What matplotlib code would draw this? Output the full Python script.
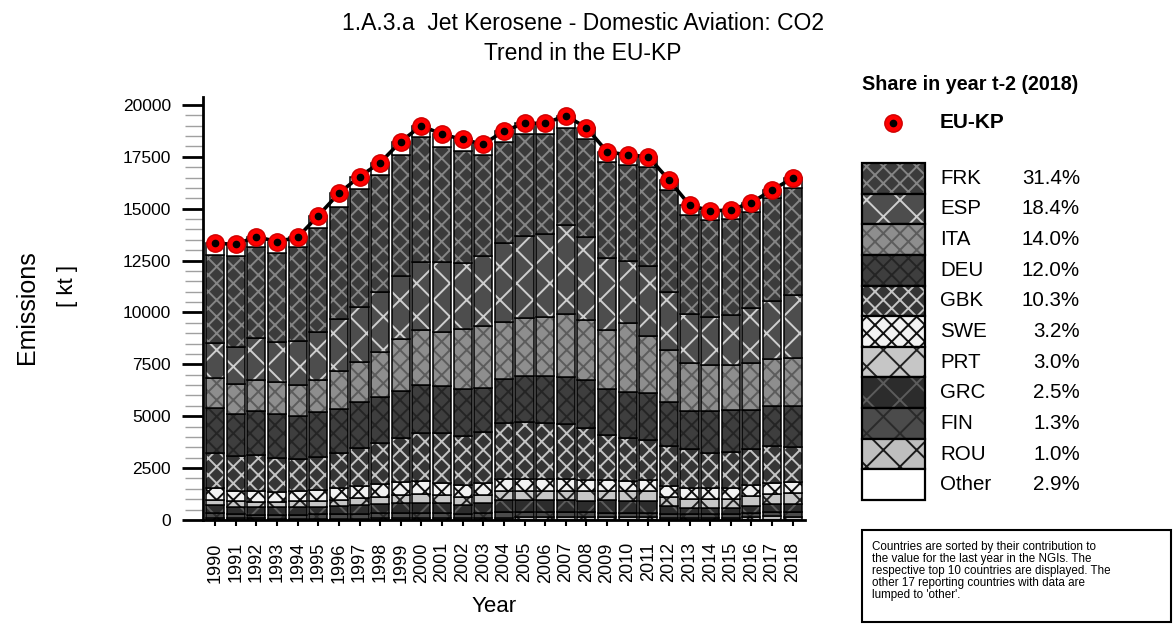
import matplotlib.pyplot as plt
import numpy as np
from matplotlib.patches import Rectangle
from matplotlib.transforms import blended_transform_factory

plt.rcParams['font.family'] = ['Liberation Sans', 'DejaVu Sans']
plt.rcParams['hatch.linewidth'] = 1.4

# data (kt CO2)
years = np.arange(1990, 2019)
frk = [4257, 4386, 4418, 4257, 4530, 5043, 5428, 5672, 5655, 5815, 6024, 5574, 5381, 4851, 4900,
       4883, 4803, 4659, 4706, 4658, 4626, 4771, 4900, 4771, 4658, 4626, 4658, 4932, 5172]
esp = [1687, 1799, 2008, 1959, 2137, 2298, 2491, 2650, 2892, 3052, 3293, 3373, 3213, 3390, 3775,
       3984, 3983, 4305, 4016, 3454, 3004, 3373, 2811, 2346, 2330, 2410, 2651, 2827, 3030]
ita = [1445, 1446, 1494, 1543, 1479, 1526, 1847, 1959, 2136, 2506, 2651, 2571, 2876, 2972, 2779,
       2779, 2860, 3004, 2892, 2844, 3293, 2780, 2490, 2313, 2201, 2169, 2249, 2249, 2306]
deu = [2138, 2008, 2120, 2088, 2103, 2169, 2090, 2217, 2249, 2249, 2329, 2297, 2249, 2152, 2120,
       2201, 2281, 2298, 2329, 2217, 2249, 2249, 2137, 1863, 2025, 2008, 1895, 1928, 1976]
gbk = [1718, 1686, 1719, 1639, 1510, 1606, 1718, 1815, 1976, 2121, 2297, 2378, 2377, 2458, 2699,
       2779, 2699, 2650, 2490, 2168, 2040, 1927, 1927, 1880, 1718, 1767, 1719, 1767, 1696]
swe = [560, 520, 530, 500, 520, 530, 560, 590, 600, 630, 640, 600, 560, 550, 570,
       560, 550, 540, 530, 520, 520, 540, 520, 520, 520, 520, 530, 530, 527]
prt = [260, 250, 260, 260, 270, 280, 300, 330, 360, 390, 400, 400, 390, 420, 450,
       460, 470, 480, 470, 460, 470, 490, 440, 420, 440, 440, 460, 480, 494]
grc = [390, 370, 360, 350, 360, 370, 390, 420, 440, 480, 490, 470, 430, 470, 560,
       560, 560, 550, 560, 590, 570, 560, 380, 320, 300, 300, 350, 400, 412]
fin = [230, 200, 190, 190, 200, 200, 210, 230, 240, 260, 260, 250, 230, 240, 270,
       260, 250, 250, 230, 220, 210, 210, 190, 170, 170, 170, 200, 220, 214]
rou = [86, 74, 74, 65, 64, 66, 66, 69, 79, 87, 90, 79, 77, 87, 110,
       120, 130, 140, 138, 138, 126, 128, 109, 96, 96, 96, 147, 169, 165]
other = [564, 546, 482, 563, 450, 579, 643, 594, 594, 643, 530, 594, 562, 514, 514,
         530, 530, 610, 547, 482, 482, 482, 482, 482, 434, 434, 434, 402, 478]

countries = ['FRK', 'ESP', 'ITA', 'DEU', 'GBK', 'SWE', 'PRT', 'GRC', 'FIN', 'ROU', 'Other']
shares_2018 = [31.4, 18.4, 14.0, 12.0, 10.3, 3.2, 3.0, 2.5, 1.3, 1.0, 2.9]

# face colour, hatch colour, hatch
styles = {
    'FRK': ('#3b3b3b', '#858585', 'xx'),
    'ESP': ('#4d4d4d', '#cfcfcf', 'x'),
    'ITA': ('#8e8e8e', '#5c5c5c', 'xx'),
    'DEU': ('#3e3e3e', '#242424', 'xx'),
    'GBK': ('#353535', '#c4c4c4', 'xx'),
    'SWE': ('#f2f2f2', '#111111', 'xx'),
    'PRT': ('#c6c6c6', '#222222', 'x'),
    'GRC': ('#2c2c2c', '#5c5c5c', 'x'),
    'FIN': ('#4b4b4b', '#2a2a2a', 'x'),
    'ROU': ('#bebebe', '#1a1a1a', 'x'),
    'Other': ('#ffffff', '#ffffff', ''),
}

# stacking order, bottom to top
layers = [('ROU', rou), ('FIN', fin), ('GRC', grc), ('PRT', prt), ('SWE', swe),
          ('GBK', gbk), ('DEU', deu), ('ITA', ita), ('ESP', esp), ('FRK', frk), ('Other', other)]

fig = plt.figure(figsize=(11.74, 6.24), dpi=100)
ax = fig.add_axes([0.1727, 0.1667, 0.5130, 0.6779])

bottom = np.zeros(len(years))
for name, vals in layers:
    face, hc, h = styles[name]
    ax.bar(years, vals, 0.88, bottom=bottom, color=face, edgecolor=hc, hatch=h, linewidth=0)
    ax.bar(years, vals, 0.88, bottom=bottom, fill=False, edgecolor='black', linewidth=1.1)
    bottom += np.array(vals)
total = bottom

ax.plot(years, total, color='black', lw=2.6, zorder=5)
ax.plot(years, total, 'o', ms=12.5, mfc='#ff0000', mec='#d00000', mew=1, zorder=6)
ax.plot(years, total, 'o', ms=4.5, color='black', zorder=7)

ax.set_xlim(1989.4, 2018.6)
ax.set_ylim(0, 20386)
ax.set_yticks(np.arange(0, 20001, 2500))
ax.set_yticks(np.arange(0, 20001, 500), minor=True)
ax.set_xticks(years)
ax.set_xticklabels([str(y) for y in years], rotation=90)
ax.tick_params(axis='y', which='major', length=15, width=2, pad=8, labelsize=12.5)
ax.tick_params(axis='y', which='minor', length=13, width=1, color='#a0a0a0')
ax.tick_params(axis='x', length=4, width=1.5, pad=12, labelsize=13)
for s in ['top', 'right']:
    ax.spines[s].set_visible(False)
for s in ['left', 'bottom']:
    ax.spines[s].set_linewidth(2)

fig.text(583 / 1174, 1 - 24 / 624, '1.A.3.a  Jet Kerosene - Domestic Aviation: CO2',
         fontsize=16.5, ha='center', va='center')
fig.text(583 / 1174, 1 - 53 / 624, 'Trend in the EU-KP', fontsize=16.5, ha='center', va='center')
fig.text(494 / 1174, 1 - 607 / 624, 'Year', fontsize=16, ha='center', va='center')
fig.text(27 / 1174, 1 - 307 / 624, 'Emissions', fontsize=18, rotation=90, ha='center', va='center')
fig.text(68 / 1174, 1 - 286 / 624, '[ kt ]', fontsize=16, rotation=90, ha='center', va='center')

# legend on the right
fig.text(862 / 1174, 1 - 85 / 624, 'Share in year t-2 (2018)', fontsize=14.2,
         fontweight='bold', ha='left', va='center')
lax = fig.add_axes([862 / 1174, 1 - 500 / 624, 63 / 1174, 337 / 624])
lax.set_xlim(0, 1)
lax.set_ylim(-0.5, 10.5)
lax.axis('off')
rows = np.arange(len(countries))[::-1]
for name, row in zip(countries, rows):
    face, hc, h = styles[name]
    lax.barh(row, 1, height=1, left=0, color=face, edgecolor=hc, hatch=h, linewidth=0)
    lax.barh(row, 1, height=1, left=0, fill=False, edgecolor='black', linewidth=1.6, clip_on=False)
tr = blended_transform_factory(lax.transAxes, lax.transData)
for name, row, sh in zip(countries, rows, shares_2018):
    lax.text(78 / 63, row, name, transform=tr, fontsize=14.8, ha='left', va='center')
    lax.text(218 / 63, row, f'{sh:.1f}%', transform=tr, fontsize=14.8, ha='right', va='center')

lax.plot([31 / 63], [(500 - 123) / 337], 'o', ms=12.5, mfc='#ff0000', mec='#d00000',
         transform=lax.transAxes, clip_on=False)
lax.plot([31 / 63], [(500 - 123) / 337], 'o', ms=4.5, color='black',
         transform=lax.transAxes, clip_on=False)
fig.text(940 / 1174, 1 - 123 / 624, 'EU-KP', fontsize=15, fontweight='bold',
         ha='left', va='center')

# note box
fig.add_artist(Rectangle((862 / 1174, 1 - 622 / 624), 309 / 1174, 92 / 624,
                         transform=fig.transFigure, fill=False, edgecolor='black', linewidth=1.5))
note = ("Countries are sorted by their contribution to\n"
        "the value for the last year in the NGIs. The\n"
        "respective top 10 countries are displayed. The\n"
        "other 17 reporting countries with data are\n"
        "lumped to 'other'.")
fig.text(872 / 1174, 1 - 541 / 624, note, fontsize=8.4, ha='left', va='top', linespacing=1.0)

fig.savefig('out.png', dpi=100)
